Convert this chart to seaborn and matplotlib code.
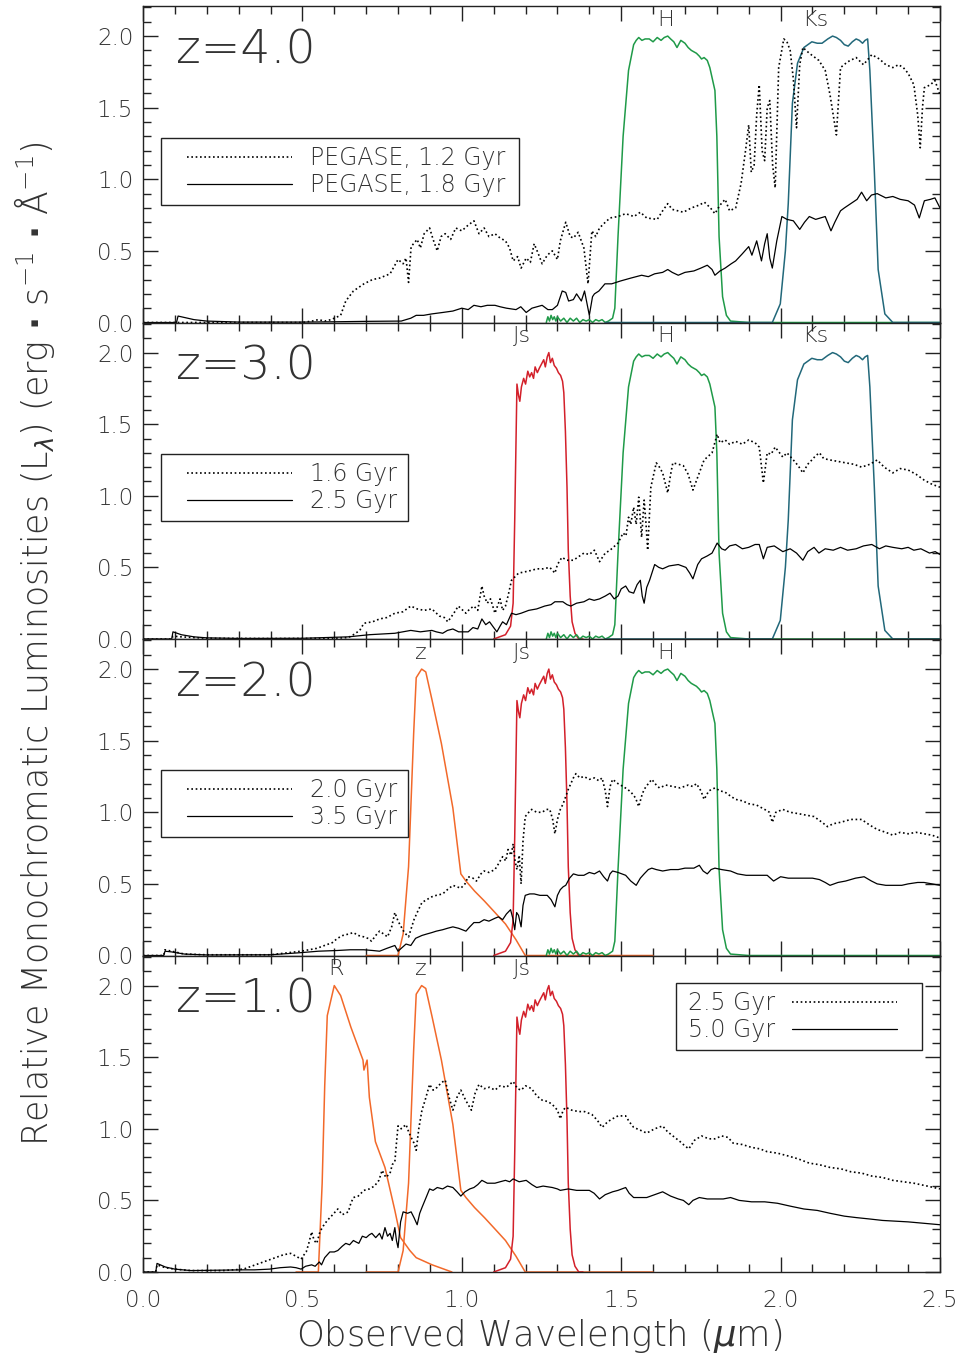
import matplotlib
matplotlib.use("Agg")
import matplotlib.pyplot as plt
import seaborn as sns
import pandas as pd
from matplotlib.lines import Line2D
from matplotlib.patches import Rectangle
from matplotlib.ticker import MultipleLocator, FormatStrFormatter

sns.set_theme(style="white")
plt.rcParams['font.family'] = ['DejaVu Sans']
plt.rcParams['font.weight'] = 200
plt.rcParams['mathtext.fontset'] = 'custom'
plt.rcParams['mathtext.rm'] = 'DejaVu Sans:weight=ultralight'
plt.rcParams['mathtext.it'] = 'DejaVu Sans:italic:weight=ultralight'
plt.rcParams['mathtext.bf'] = 'DejaVu Sans:bold'

# ---------------- data (wavelength in micron, relative luminosity) ----------------
# filter transmission curves (observed frame, peak-normalised to 2)
filt_R = [(0.48, 0.0), (0.55, 0.0), (0.562, 0.62), (0.57, 1.3), (0.578, 1.79), (0.60, 2.0),
          (0.62, 1.93), (0.652, 1.71), (0.69, 1.48), (0.693, 1.41), (0.703, 1.48), (0.71, 1.22),
          (0.729, 0.91), (0.759, 0.73), (0.79, 0.43), (0.808, 0.24), (0.837, 0.15), (0.857, 0.10),
          (0.907, 0.05), (0.969, 0.0)]
filt_z = [(0.70, 0.0), (0.80, 0.0), (0.816, 0.15), (0.833, 0.62), (0.849, 1.55), (0.857, 1.94),
          (0.874, 2.0), (0.887, 1.98), (0.907, 1.78), (0.936, 1.48), (0.972, 1.03), (0.997, 0.57),
          (1.013, 0.52), (1.04, 0.45), (1.071, 0.38), (1.10, 0.31), (1.137, 0.22), (1.17, 0.11),
          (1.199, 0.0), (1.60, 0.0)]
filt_Js = [(1.10, 0.0), (1.137, 0.03), (1.153, 0.09), (1.161, 0.25), (1.166, 0.83), (1.173, 1.78),
           (1.178, 1.70), (1.182, 1.66), (1.187, 1.76), (1.194, 1.82), (1.20, 1.78), (1.207, 1.87),
           (1.213, 1.83), (1.219, 1.86), (1.225, 1.82), (1.23, 1.90), (1.237, 1.86), (1.243, 1.89),
           (1.25, 1.92), (1.257, 1.95), (1.262, 1.90), (1.268, 1.97), (1.273, 2.0), (1.278, 1.93),
           (1.284, 1.96), (1.29, 1.91), (1.297, 1.89), (1.303, 1.86), (1.31, 1.84), (1.316, 1.80),
           (1.32, 1.72), (1.325, 1.45), (1.33, 1.06), (1.334, 0.62), (1.34, 0.30), (1.346, 0.12),
           (1.355, 0.04), (1.367, 0.0), (1.38, 0.0)]
filt_H = [(1.265, 0.0), (1.27, 0.04), (1.275, 0.01), (1.28, 0.05), (1.285, 0.02), (1.29, 0.04),
          (1.295, 0.01), (1.30, 0.04), (1.31, 0.01), (1.32, 0.03), (1.33, 0.0), (1.34, 0.03),
          (1.35, 0.01), (1.36, 0.03), (1.37, 0.0), (1.38, 0.02), (1.39, 0.01), (1.40, 0.02),
          (1.41, 0.0), (1.42, 0.02), (1.43, 0.01), (1.44, 0.02), (1.45, 0.0), (1.46, 0.01),
          (1.473, 0.03), (1.48, 0.10), (1.49, 0.60), (1.506, 1.30), (1.523, 1.76), (1.539, 1.94),
          (1.547, 1.97), (1.555, 1.99), (1.565, 1.97), (1.575, 1.98), (1.588, 1.98), (1.60, 1.96),
          (1.613, 1.99), (1.625, 1.97), (1.635, 1.99), (1.646, 2.0), (1.655, 1.98), (1.665, 1.96),
          (1.675, 1.92), (1.687, 1.97), (1.70, 1.95), (1.71, 1.92), (1.72, 1.90), (1.736, 1.88),
          (1.745, 1.86), (1.752, 1.84), (1.76, 1.85), (1.77, 1.83), (1.778, 1.78), (1.785, 1.71),
          (1.794, 1.62), (1.80, 1.30), (1.807, 0.60), (1.818, 0.18), (1.83, 0.05), (1.843, 0.01),
          (1.9, 0.0), (2.5, 0.0)]
filt_Ks = [(1.45, 0.0), (1.974, 0.0), (1.999, 0.13), (2.015, 0.5), (2.024, 0.83), (2.037, 1.53),
           (2.053, 1.81), (2.073, 1.92), (2.098, 1.96), (2.115, 1.95), (2.13, 1.95), (2.148, 1.98),
           (2.163, 2.0), (2.175, 1.99), (2.188, 1.97), (2.2, 1.94), (2.212, 1.93), (2.225, 1.96),
           (2.237, 1.98), (2.247, 1.97), (2.257, 1.95), (2.265, 1.97), (2.273, 1.98), (2.28, 1.76),
           (2.294, 1.06), (2.306, 0.37), (2.327, 0.06), (2.352, 0.0), (2.5, 0.0)]

# PEGASE spectra, z = 4.0
z4_young = [(0.0, 0.0), (0.50, 0.0), (0.53, 0.01), (0.55, 0.02), (0.57, 0.01), (0.59, 0.02),
            (0.62, 0.05), (0.636, 0.15), (0.66, 0.22), (0.693, 0.27), (0.72, 0.30), (0.742, 0.31),
            (0.775, 0.34), (0.79, 0.40), (0.80, 0.44), (0.816, 0.41), (0.825, 0.45), (0.833, 0.28),
            (0.841, 0.53), (0.86, 0.58), (0.87, 0.52), (0.882, 0.62), (0.899, 0.66), (0.91, 0.58),
            (0.923, 0.50), (0.935, 0.60), (0.948, 0.62), (0.965, 0.58), (0.981, 0.66), (1.0, 0.64),
            (1.02, 0.68), (1.038, 0.71), (1.054, 0.62), (1.07, 0.66), (1.085, 0.60), (1.104, 0.62),
            (1.12, 0.59), (1.137, 0.57), (1.15, 0.52), (1.161, 0.43), (1.175, 0.46), (1.186, 0.38),
            (1.202, 0.45), (1.215, 0.42), (1.227, 0.55), (1.24, 0.48), (1.252, 0.41), (1.268, 0.47),
            (1.284, 0.50), (1.30, 0.44), (1.309, 0.57), (1.326, 0.70), (1.34, 0.60), (1.35, 0.59),
            (1.365, 0.63), (1.383, 0.52), (1.396, 0.27), (1.408, 0.64), (1.42, 0.60), (1.432, 0.66),
            (1.45, 0.70), (1.465, 0.73), (1.49, 0.74), (1.514, 0.76), (1.54, 0.74), (1.56, 0.77),
            (1.58, 0.73), (1.613, 0.72), (1.63, 0.78), (1.646, 0.83), (1.66, 0.79), (1.695, 0.77),
            (1.72, 0.80), (1.745, 0.82), (1.761, 0.84), (1.78, 0.80), (1.794, 0.76), (1.81, 0.82),
            (1.826, 0.86), (1.84, 0.78), (1.859, 0.80), (1.876, 0.97), (1.89, 1.20), (1.90, 1.38),
            (1.908, 1.05), (1.917, 1.10), (1.925, 1.45), (1.933, 1.66), (1.942, 1.20), (1.95, 1.13),
            (1.958, 1.50), (1.966, 1.55), (1.975, 1.10), (1.983, 0.94), (1.994, 1.78), (2.01, 1.98),
            (2.02, 1.96), (2.03, 1.90), (2.04, 1.70), (2.05, 1.36), (2.06, 1.80), (2.07, 1.92),
            (2.09, 1.88), (2.12, 1.83), (2.14, 1.76), (2.155, 1.59), (2.175, 1.31), (2.188, 1.78),
            (2.21, 1.82), (2.237, 1.85), (2.26, 1.80), (2.286, 1.87), (2.31, 1.84), (2.33, 1.80),
            (2.352, 1.78), (2.37, 1.80), (2.385, 1.78), (2.40, 1.74), (2.418, 1.66), (2.43, 1.45),
            (2.438, 1.22), (2.445, 1.50), (2.451, 1.64), (2.47, 1.66), (2.484, 1.69), (2.5, 1.59)]
z4_old = [(0.0, 0.0), (0.105, 0.0), (0.11, 0.045), (0.13, 0.035), (0.16, 0.02), (0.2, 0.01),
          (0.3, 0.003), (0.5, 0.003), (0.6, 0.005), (0.7, 0.008), (0.81, 0.01), (0.84, 0.03),
          (0.857, 0.05), (0.88, 0.05), (0.906, 0.06), (0.94, 0.07), (0.972, 0.08), (1.0, 0.10),
          (1.02, 0.09), (1.038, 0.12), (1.06, 0.11), (1.08, 0.12), (1.104, 0.12), (1.12, 0.11),
          (1.14, 0.10), (1.17, 0.09), (1.185, 0.11), (1.202, 0.07), (1.22, 0.10), (1.252, 0.12),
          (1.27, 0.09), (1.284, 0.09), (1.30, 0.12), (1.315, 0.22), (1.326, 0.21), (1.335, 0.15),
          (1.35, 0.16), (1.36, 0.20), (1.375, 0.15), (1.385, 0.22), (1.40, 0.05), (1.41, 0.18),
          (1.416, 0.20), (1.43, 0.22), (1.449, 0.27), (1.47, 0.27), (1.498, 0.29), (1.53, 0.31),
          (1.564, 0.33), (1.585, 0.32), (1.605, 0.34), (1.63, 0.35), (1.646, 0.37), (1.66, 0.35),
          (1.679, 0.33), (1.70, 0.35), (1.728, 0.36), (1.75, 0.38), (1.77, 0.40), (1.785, 0.37),
          (1.794, 0.33), (1.81, 0.36), (1.826, 0.38), (1.845, 0.41), (1.859, 0.43), (1.88, 0.48),
          (1.90, 0.53), (1.91, 0.47), (1.925, 0.57), (1.94, 0.43), (1.95, 0.55), (1.958, 0.62),
          (1.966, 0.45), (1.974, 0.38), (1.988, 0.57), (2.004, 0.74), (2.02, 0.72), (2.04, 0.71),
          (2.06, 0.65), (2.075, 0.70), (2.09, 0.74), (2.11, 0.72), (2.14, 0.74), (2.158, 0.64),
          (2.17, 0.70), (2.188, 0.78), (2.20, 0.80), (2.22, 0.83), (2.24, 0.86), (2.254, 0.91),
          (2.27, 0.85), (2.285, 0.89), (2.303, 0.90), (2.33, 0.87), (2.352, 0.88), (2.375, 0.86),
          (2.40, 0.85), (2.42, 0.82), (2.435, 0.73), (2.451, 0.85), (2.47, 0.86), (2.484, 0.87),
          (2.5, 0.80)]

# z = 3.0
z3_young = [(0.0, 0.0), (0.09, 0.0), (0.094, 0.02), (0.12, 0.015), (0.2, 0.005), (0.4, 0.003),
            (0.6, 0.005), (0.644, 0.01), (0.66, 0.03), (0.68, 0.06), (0.693, 0.11), (0.72, 0.12),
            (0.742, 0.14), (0.765, 0.15), (0.79, 0.18), (0.815, 0.19), (0.84, 0.23), (0.86, 0.21),
            (0.882, 0.20), (0.906, 0.21), (0.93, 0.16), (0.945, 0.15), (0.956, 0.12), (0.975, 0.18),
            (0.989, 0.23), (1.013, 0.18), (1.025, 0.21), (1.038, 0.23), (1.05, 0.20), (1.063, 0.37),
            (1.07, 0.30), (1.08, 0.25), (1.09, 0.28), (1.104, 0.18), (1.12, 0.28), (1.128, 0.20),
            (1.137, 0.23), (1.145, 0.30), (1.156, 0.41), (1.178, 0.46), (1.20, 0.47), (1.22, 0.48),
            (1.235, 0.49), (1.255, 0.49), (1.276, 0.50), (1.292, 0.46), (1.30, 0.52), (1.314, 0.57),
            (1.33, 0.55), (1.35, 0.55), (1.383, 0.60), (1.40, 0.59), (1.416, 0.62), (1.432, 0.54),
            (1.45, 0.60), (1.465, 0.62), (1.49, 0.67), (1.506, 0.74), (1.515, 0.72), (1.523, 0.85),
            (1.53, 0.80), (1.539, 0.92), (1.547, 0.80), (1.555, 0.99), (1.564, 0.71), (1.572, 0.97),
            (1.578, 0.80), (1.583, 0.62), (1.593, 1.06), (1.61, 1.23), (1.62, 1.20), (1.63, 1.16),
            (1.646, 1.02), (1.655, 1.15), (1.662, 1.23), (1.68, 1.22), (1.695, 1.21), (1.71, 1.15),
            (1.725, 1.04), (1.735, 1.10), (1.745, 1.16), (1.76, 1.25), (1.785, 1.30), (1.801, 1.43),
            (1.81, 1.37), (1.826, 1.39), (1.84, 1.36), (1.859, 1.38), (1.88, 1.36), (1.90, 1.39),
            (1.92, 1.37), (1.933, 1.34), (1.946, 1.09), (1.958, 1.30), (1.97, 1.29), (1.983, 1.34),
            (2.007, 1.27), (2.02, 1.30), (2.04, 1.25), (2.055, 1.21), (2.07, 1.16), (2.085, 1.22),
            (2.098, 1.25), (2.11, 1.28), (2.122, 1.30), (2.135, 1.26), (2.155, 1.25), (2.18, 1.24),
            (2.204, 1.23), (2.23, 1.22), (2.254, 1.20), (2.28, 1.22), (2.303, 1.25), (2.325, 1.20),
            (2.352, 1.16), (2.375, 1.19), (2.40, 1.18), (2.425, 1.15), (2.45, 1.11), (2.475, 1.08),
            (2.5, 1.06)]
z3_old = [(0.0, 0.0), (0.09, 0.0), (0.094, 0.05), (0.12, 0.03), (0.16, 0.015), (0.2, 0.008),
          (0.3, 0.004), (0.5, 0.005), (0.644, 0.015), (0.71, 0.03), (0.75, 0.035), (0.79, 0.04),
          (0.815, 0.05), (0.84, 0.06), (0.87, 0.05), (0.906, 0.06), (0.92, 0.05), (0.94, 0.04),
          (0.955, 0.06), (0.972, 0.07), (0.99, 0.05), (1.02, 0.05), (1.035, 0.08), (1.05, 0.07),
          (1.063, 0.14), (1.075, 0.10), (1.087, 0.12), (1.10, 0.08), (1.11, 0.05), (1.12, 0.09),
          (1.128, 0.12), (1.14, 0.10), (1.156, 0.18), (1.17, 0.17), (1.186, 0.18), (1.21, 0.20),
          (1.235, 0.21), (1.26, 0.23), (1.28, 0.24), (1.292, 0.26), (1.317, 0.26), (1.33, 0.24),
          (1.342, 0.23), (1.36, 0.25), (1.383, 0.26), (1.40, 0.28), (1.415, 0.27), (1.432, 0.28),
          (1.45, 0.30), (1.465, 0.32), (1.478, 0.28), (1.49, 0.30), (1.50, 0.35), (1.514, 0.37),
          (1.525, 0.33), (1.539, 0.32), (1.55, 0.38), (1.56, 0.41), (1.566, 0.30), (1.572, 0.25),
          (1.58, 0.36), (1.589, 0.41), (1.605, 0.52), (1.618, 0.50), (1.63, 0.49), (1.65, 0.51),
          (1.679, 0.52), (1.703, 0.50), (1.715, 0.46), (1.725, 0.42), (1.74, 0.52), (1.752, 0.56),
          (1.77, 0.58), (1.785, 0.60), (1.801, 0.67), (1.815, 0.63), (1.826, 0.62), (1.84, 0.65),
          (1.859, 0.66), (1.88, 0.63), (1.90, 0.64), (1.92, 0.66), (1.933, 0.66), (1.946, 0.56),
          (1.958, 0.64), (1.98, 0.65), (2.007, 0.61), (2.03, 0.63), (2.05, 0.60), (2.07, 0.55),
          (2.085, 0.61), (2.105, 0.64), (2.12, 0.60), (2.14, 0.63), (2.165, 0.62), (2.188, 0.64),
          (2.21, 0.62), (2.237, 0.63), (2.26, 0.65), (2.286, 0.66), (2.31, 0.63), (2.33, 0.65),
          (2.352, 0.64), (2.38, 0.63), (2.40, 0.64), (2.418, 0.62), (2.44, 0.63), (2.467, 0.60),
          (2.485, 0.61), (2.5, 0.59)]

# z = 2.0
z2_young = [(0.0, 0.0), (0.065, 0.0), (0.069, 0.04), (0.09, 0.03), (0.13, 0.01), (0.2, 0.005),
            (0.4, 0.005), (0.496, 0.03), (0.52, 0.04), (0.545, 0.05), (0.57, 0.07), (0.594, 0.09),
            (0.61, 0.12), (0.627, 0.14), (0.645, 0.15), (0.66, 0.16), (0.675, 0.14), (0.693, 0.13),
            (0.705, 0.12), (0.717, 0.10), (0.73, 0.14), (0.742, 0.17), (0.755, 0.15), (0.767, 0.13),
            (0.78, 0.20), (0.79, 0.30), (0.80, 0.24), (0.81, 0.20), (0.82, 0.16), (0.833, 0.13),
            (0.85, 0.25), (0.86, 0.30), (0.875, 0.37), (0.89, 0.39), (0.906, 0.41), (0.92, 0.42),
            (0.94, 0.43), (0.955, 0.46), (0.972, 0.49), (0.997, 0.47), (1.01, 0.50), (1.02, 0.55),
            (1.035, 0.54), (1.046, 0.52), (1.06, 0.57), (1.07, 0.59), (1.085, 0.58), (1.104, 0.60),
            (1.115, 0.64), (1.128, 0.69), (1.138, 0.66), (1.145, 0.74), (1.155, 0.70), (1.161, 0.78),
            (1.167, 0.66), (1.173, 0.60), (1.18, 0.70), (1.186, 0.50), (1.192, 0.80), (1.199, 0.97),
            (1.21, 1.00), (1.219, 1.02), (1.235, 1.00), (1.252, 1.00), (1.265, 1.02), (1.276, 1.02),
            (1.285, 0.95), (1.292, 0.85), (1.30, 0.95), (1.309, 1.02), (1.318, 1.06), (1.326, 1.11),
            (1.334, 1.16), (1.342, 1.20), (1.35, 1.24), (1.358, 1.27), (1.37, 1.24), (1.383, 1.25),
            (1.40, 1.23), (1.416, 1.24), (1.43, 1.22), (1.44, 1.24), (1.45, 1.15), (1.457, 1.04),
            (1.465, 1.18), (1.473, 1.23), (1.49, 1.20), (1.506, 1.18), (1.52, 1.16), (1.531, 1.14),
            (1.545, 1.10), (1.555, 1.04), (1.565, 1.12), (1.572, 1.16), (1.585, 1.20), (1.596, 1.23),
            (1.61, 1.19), (1.62, 1.17), (1.64, 1.19), (1.662, 1.18), (1.685, 1.17), (1.71, 1.19),
            (1.725, 1.18), (1.736, 1.20), (1.75, 1.15), (1.76, 1.09), (1.775, 1.15), (1.794, 1.17),
            (1.81, 1.15), (1.826, 1.14), (1.845, 1.11), (1.859, 1.09), (1.88, 1.08), (1.90, 1.06),
            (1.925, 1.05), (1.95, 1.02), (1.965, 1.00), (1.974, 0.93), (1.985, 1.00), (2.007, 1.02),
            (2.03, 1.00), (2.057, 0.99), (2.08, 0.98), (2.105, 0.97), (2.13, 0.93), (2.147, 0.90),
            (2.165, 0.92), (2.188, 0.93), (2.22, 0.95), (2.254, 0.95), (2.28, 0.91), (2.303, 0.88),
            (2.33, 0.86), (2.352, 0.84), (2.375, 0.86), (2.40, 0.85), (2.425, 0.86), (2.45, 0.85),
            (2.475, 0.84), (2.5, 0.82)]
z2_old = [(0.0, 0.0), (0.065, 0.0), (0.069, 0.03), (0.09, 0.025), (0.13, 0.01), (0.2, 0.004),
          (0.4, 0.005), (0.496, 0.02), (0.55, 0.03), (0.61, 0.035), (0.65, 0.04), (0.693, 0.04),
          (0.72, 0.035), (0.742, 0.03), (0.765, 0.05), (0.79, 0.07), (0.80, 0.03), (0.81, 0.05),
          (0.825, 0.08), (0.84, 0.07), (0.855, 0.12), (0.875, 0.14), (0.89, 0.15), (0.906, 0.16),
          (0.92, 0.17), (0.94, 0.18), (0.955, 0.19), (0.972, 0.20), (0.99, 0.19), (1.013, 0.17),
          (1.025, 0.20), (1.038, 0.23), (1.055, 0.23), (1.07, 0.25), (1.085, 0.24), (1.104, 0.26),
          (1.115, 0.27), (1.128, 0.25), (1.14, 0.29), (1.153, 0.32), (1.16, 0.26), (1.166, 0.18),
          (1.172, 0.30), (1.178, 0.28), (1.186, 0.20), (1.192, 0.35), (1.199, 0.42), (1.213, 0.43),
          (1.227, 0.43), (1.245, 0.42), (1.268, 0.42), (1.28, 0.39), (1.292, 0.34), (1.30, 0.42),
          (1.309, 0.46), (1.318, 0.48), (1.326, 0.49), (1.338, 0.54), (1.35, 0.57), (1.365, 0.56),
          (1.383, 0.56), (1.40, 0.58), (1.416, 0.57), (1.432, 0.59), (1.445, 0.55), (1.457, 0.52),
          (1.465, 0.57), (1.473, 0.59), (1.49, 0.58), (1.514, 0.56), (1.53, 0.52), (1.547, 0.49),
          (1.56, 0.54), (1.572, 0.57), (1.585, 0.60), (1.596, 0.61), (1.61, 0.60), (1.63, 0.59),
          (1.655, 0.60), (1.679, 0.60), (1.70, 0.61), (1.728, 0.61), (1.745, 0.63), (1.757, 0.59),
          (1.77, 0.57), (1.782, 0.60), (1.794, 0.61), (1.815, 0.60), (1.843, 0.59), (1.865, 0.57),
          (1.892, 0.56), (1.925, 0.56), (1.958, 0.56), (1.978, 0.52), (2.0, 0.55), (2.024, 0.54),
          (2.06, 0.54), (2.1, 0.54), (2.122, 0.53), (2.14, 0.51), (2.155, 0.49), (2.18, 0.51),
          (2.204, 0.52), (2.235, 0.54), (2.262, 0.55), (2.285, 0.52), (2.303, 0.50), (2.33, 0.49),
          (2.352, 0.49), (2.38, 0.49), (2.40, 0.50), (2.43, 0.51), (2.45, 0.51), (2.475, 0.50),
          (2.5, 0.49)]

# z = 1.0
z1_young = [(0.0, 0.0), (0.04, 0.0), (0.044, 0.05), (0.07, 0.03), (0.1, 0.02), (0.15, 0.01),
            (0.25, 0.01), (0.315, 0.02), (0.34, 0.04), (0.365, 0.06), (0.39, 0.08), (0.414, 0.10),
            (0.44, 0.12), (0.463, 0.13), (0.48, 0.11), (0.496, 0.09), (0.505, 0.12), (0.512, 0.14),
            (0.52, 0.20), (0.529, 0.28), (0.537, 0.22), (0.545, 0.20), (0.555, 0.28), (0.565, 0.32),
            (0.578, 0.36), (0.595, 0.40), (0.611, 0.44), (0.625, 0.40), (0.644, 0.42), (0.652, 0.48),
            (0.66, 0.52), (0.675, 0.53), (0.693, 0.57), (0.71, 0.58), (0.726, 0.60), (0.74, 0.64),
            (0.75, 0.71), (0.762, 0.66), (0.775, 0.69), (0.782, 0.75), (0.79, 0.77), (0.795, 0.90),
            (0.80, 1.02), (0.81, 1.00), (0.825, 1.03), (0.833, 0.98), (0.841, 0.94), (0.85, 0.90),
            (0.857, 0.85), (0.865, 1.00), (0.875, 1.13), (0.885, 1.20), (0.899, 1.31), (0.91, 1.27),
            (0.923, 1.29), (0.935, 1.32), (0.948, 1.34), (0.96, 1.22), (0.972, 1.13), (0.985, 1.22),
            (0.997, 1.27), (1.012, 1.20), (1.03, 1.13), (1.042, 1.25), (1.054, 1.31), (1.07, 1.28),
            (1.087, 1.29), (1.104, 1.27), (1.12, 1.30), (1.14, 1.29), (1.161, 1.33), (1.175, 1.28),
            (1.186, 1.27), (1.20, 1.30), (1.219, 1.28), (1.235, 1.23), (1.252, 1.20), (1.27, 1.19),
            (1.284, 1.17), (1.30, 1.13), (1.309, 1.07), (1.318, 1.13), (1.326, 1.15), (1.345, 1.13),
            (1.367, 1.12), (1.385, 1.12), (1.408, 1.10), (1.425, 1.06), (1.44, 1.01), (1.458, 1.05),
            (1.473, 1.07), (1.49, 1.09), (1.514, 1.09), (1.525, 1.05), (1.539, 1.01), (1.56, 0.99),
            (1.58, 0.97), (1.605, 1.00), (1.63, 1.02), (1.645, 0.98), (1.662, 0.95), (1.685, 0.91),
            (1.70, 0.88), (1.712, 0.86), (1.73, 0.92), (1.752, 0.95), (1.775, 0.93), (1.794, 0.93),
            (1.815, 0.95), (1.835, 0.94), (1.851, 0.90), (1.88, 0.89), (1.909, 0.87), (1.935, 0.86),
            (1.958, 0.84), (1.99, 0.83), (2.024, 0.81), (2.055, 0.79), (2.09, 0.76), (2.12, 0.75),
            (2.155, 0.73), (2.19, 0.72), (2.22, 0.70), (2.255, 0.69), (2.286, 0.67), (2.32, 0.66),
            (2.352, 0.64), (2.385, 0.63), (2.418, 0.62), (2.46, 0.60), (2.5, 0.58)]
z1_old = [(0.0, 0.0), (0.04, 0.0), (0.044, 0.06), (0.07, 0.035), (0.1, 0.02), (0.15, 0.01),
          (0.315, 0.015), (0.35, 0.015), (0.397, 0.02), (0.43, 0.03), (0.463, 0.035), (0.48, 0.03),
          (0.496, 0.02), (0.51, 0.04), (0.529, 0.05), (0.54, 0.04), (0.553, 0.07), (0.56, 0.05),
          (0.57, 0.10), (0.578, 0.12), (0.586, 0.14), (0.60, 0.14), (0.611, 0.15), (0.625, 0.18),
          (0.636, 0.20), (0.648, 0.19), (0.66, 0.22), (0.668, 0.21), (0.677, 0.20), (0.688, 0.25),
          (0.70, 0.24), (0.71, 0.26), (0.718, 0.27), (0.73, 0.24), (0.742, 0.27), (0.75, 0.23),
          (0.759, 0.31), (0.767, 0.25), (0.775, 0.27), (0.782, 0.22), (0.79, 0.31), (0.795, 0.22),
          (0.80, 0.17), (0.808, 0.35), (0.816, 0.42), (0.83, 0.41), (0.841, 0.42), (0.85, 0.38),
          (0.86, 0.33), (0.868, 0.41), (0.875, 0.45), (0.888, 0.52), (0.899, 0.58), (0.91, 0.57),
          (0.923, 0.59), (0.94, 0.58), (0.955, 0.60), (0.972, 0.59), (0.985, 0.56), (0.997, 0.53),
          (1.01, 0.56), (1.025, 0.58), (1.038, 0.59), (1.05, 0.61), (1.063, 0.64), (1.08, 0.62),
          (1.104, 0.62), (1.12, 0.63), (1.137, 0.64), (1.15, 0.63), (1.161, 0.65), (1.18, 0.63),
          (1.202, 0.64), (1.22, 0.61), (1.235, 0.59), (1.255, 0.60), (1.284, 0.59), (1.30, 0.58),
          (1.309, 0.57), (1.334, 0.58), (1.36, 0.57), (1.40, 0.57), (1.415, 0.55), (1.432, 0.51),
          (1.45, 0.54), (1.473, 0.56), (1.49, 0.57), (1.514, 0.59), (1.525, 0.55), (1.539, 0.52),
          (1.56, 0.52), (1.58, 0.52), (1.605, 0.54), (1.63, 0.56), (1.655, 0.53), (1.679, 0.51),
          (1.695, 0.50), (1.712, 0.47), (1.725, 0.50), (1.745, 0.52), (1.77, 0.51), (1.794, 0.51),
          (1.82, 0.51), (1.843, 0.52), (1.87, 0.50), (1.909, 0.49), (1.95, 0.49), (1.99, 0.48),
          (2.03, 0.46), (2.073, 0.44), (2.115, 0.43), (2.155, 0.41), (2.2, 0.39), (2.237, 0.38),
          (2.28, 0.37), (2.32, 0.36), (2.36, 0.355), (2.40, 0.35), (2.45, 0.34), (2.5, 0.33)]

redshifts = ["z=4.0", "z=3.0", "z=2.0", "z=1.0"]
legend_labels = [["PEGASE, 1.2 Gyr", "PEGASE, 1.8 Gyr"],
                 ["1.6 Gyr", "2.5 Gyr"],
                 ["2.0 Gyr", "3.5 Gyr"],
                 ["2.5 Gyr", "5.0 Gyr"]]
spectra = [(z4_young, z4_old), (z3_young, z3_old), (z2_young, z2_old), (z1_young, z1_old)]
panel_filters = [["H", "Ks"], ["Js", "H", "Ks"], ["z", "Js", "H"], ["R", "z", "Js"]]
filter_curves = {"R": filt_R, "z": filt_z, "Js": filt_Js, "H": filt_H, "Ks": filt_Ks}
filter_colors = {"R": "#f2692a", "z": "#f2692a", "Js": "#d3202a", "H": "#1f9a48", "Ks": "#22687a"}
filter_label_x = {"R": 0.605, "z": 0.872, "Js": 1.19, "H": 1.64, "Ks": 2.11}

# legend box geometry in axes fractions: (x0, x1, y_bottom, y_top)
legend_boxes = [(0.0226, 0.4718, 0.371, 0.583),
                (0.0226, 0.3325, 0.373, 0.5845),
                (0.0226, 0.3325, 0.374, 0.586),
                (0.6688, 0.9774, 0.701, 0.913)]


def to_df(pts):
    return pd.DataFrame(pts, columns=["wl", "lum"])


fig = plt.figure(figsize=(9.62, 13.6), dpi=100)
left, width = 143 / 962, 797 / 962
panel_h = 316.5 / 1360
bottom0 = (1360 - 1272) / 1360
TXT = "#333333"

for i in range(4):
    ax = fig.add_axes([left, bottom0 + (3 - i) * panel_h, width, panel_h])
    ax.set_facecolor("white")

    for f in panel_filters[i]:
        d = to_df(filter_curves[f])
        sns.lineplot(data=d, x="wl", y="lum", ax=ax, color=filter_colors[f], lw=1.1,
                     sort=False, estimator=None)
        ax.text(filter_label_x[f], 2.115, f, ha="center", va="center", fontsize=16,
                fontweight=200, color=TXT)

    young, old = spectra[i]
    sns.lineplot(data=to_df(young), x="wl", y="lum", ax=ax, color="black", lw=1.2,
                 linestyle=(0, (1, 1.6)), sort=False, estimator=None)
    sns.lineplot(data=to_df(old), x="wl", y="lum", ax=ax, color="black", lw=0.9,
                 sort=False, estimator=None)

    ax.set_xlim(0, 2.5)
    ax.set_ylim(0, 2.21)
    ax.xaxis.set_major_locator(MultipleLocator(0.5))
    ax.xaxis.set_minor_locator(MultipleLocator(0.1))
    ax.yaxis.set_major_locator(MultipleLocator(0.5))
    ax.yaxis.set_minor_locator(MultipleLocator(0.1))
    ax.yaxis.set_major_formatter(FormatStrFormatter("%.1f"))
    ax.xaxis.set_major_formatter(FormatStrFormatter("%.1f"))
    ax.tick_params(which="both", direction="in", top=True, right=True, bottom=True, left=True,
                   colors="#222222", labelcolor=TXT, labelsize=16.5, width=1.0)
    ax.tick_params(which="major", length=11)
    ax.tick_params(which="minor", length=5.5)
    ax.tick_params(axis="x", pad=12)
    ax.tick_params(axis="y", pad=7)
    for lab in ax.get_yticklabels() + ax.get_xticklabels():
        lab.set_fontweight(200)
    if i < 3:
        ax.tick_params(axis="x", labelbottom=False)
    ax.set_xlabel("")
    ax.set_ylabel("")
    for sp in ax.spines.values():
        sp.set_visible(True)
        sp.set_color("#222222")
        sp.set_linewidth(1.0)
    ax.grid(False)

    ax.text(0.105, 1.90, redshifts[i], ha="left", va="center", fontsize=34,
            fontweight=200, color=TXT)

    # legend frame
    x0, x1, yb, yt = legend_boxes[i]
    ax.add_patch(Rectangle((x0, yb), x1 - x0, yt - yb, transform=ax.transAxes,
                           facecolor="white", edgecolor="#222222", lw=1.0, zorder=4))

    handles = [Line2D([], [], color="black", lw=1.2, linestyle=(0, (1, 1.6))),
               Line2D([], [], color="black", lw=0.9)]
    h = yt - yb
    if i < 3:
        leg = ax.legend(handles, legend_labels[i], loc="center left",
                        bbox_to_anchor=(x0 + 0.0326, yb + h / 2), borderaxespad=0,
                        borderpad=0, fontsize=17, handlelength=4.45, handletextpad=0.75,
                        labelspacing=0.12, frameon=False)
    else:
        leg = ax.legend(handles, legend_labels[i], loc="center right",
                        bbox_to_anchor=(x1 - 0.031, yb + h / 2), borderaxespad=0,
                        borderpad=0, fontsize=17, handlelength=4.45, handletextpad=0.75,
                        labelspacing=0.12, frameon=False, markerfirst=False)
    leg.set_zorder(5)
    for t in leg.get_texts():
        t.set_fontweight(200)
        t.set_color(TXT)

fig.text(0.036, 0.527,
         r"Relative Monochromatic Luminosities (L$_\lambda$) (erg $\mathbf{∙}$ s$^{-1}$ $\mathbf{∙}$ Å$^{-1}$)",
         rotation=90, ha="center", va="center", fontsize=25, fontweight=200, color=TXT)
fig.text(0.561, 0.0175, r"Observed Wavelength ($\mu$m)", ha="center", va="center",
         fontsize=25.5, fontweight=200, color=TXT)

fig.savefig("out.png", dpi=100, facecolor="white")
